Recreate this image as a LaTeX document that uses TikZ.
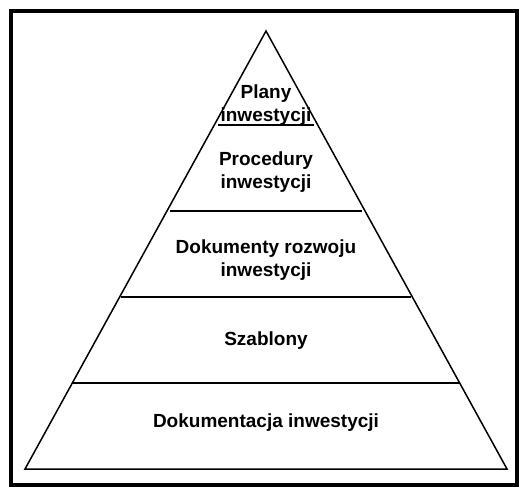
\documentclass[tikz,border=0pt]{standalone}
\usepackage{fontspec}
\setmainfont{Liberation Sans}
\begin{document}
\begin{tikzpicture}[x=1pt,y=-1pt,
  frame/.style={line width=4pt},
  edge/.style={line width=1.5pt,line join=miter},
  tier/.style={line width=1.6pt},
  label/.style={font=\bfseries\fontsize{19}{23}\selectfont,align=center,inner sep=0pt}]
  \useasboundingbox (0,0) rectangle (522,488);
  % outer frame
  \draw[frame] (11,11) rectangle (517,485);
  % pyramid outline
  \coordinate (apex) at (266,31);
  \coordinate (bl) at (25,469);
  \coordinate (br) at (507,469);
  \draw[edge] (bl) -- (apex) -- (br) -- cycle;
  % tier boundaries
  \draw[tier] (218,125) -- (314,125);
  \draw[tier] (170,211) -- (362,211);
  \draw[tier] (121,297) -- (411,297);
  \draw[tier] (73,383) -- (459,383);
  % tier labels
  \node[label] (plany) at (266,105) {Plany\\inwestycji};
  \node[label] (proc) at (266,172) {Procedury\\inwestycji};
  \node[label] (dok) at (266,260) {Dokumenty rozwoju\\inwestycji};
  \node[label] (szab) at (266,341) {Szablony};
  \node[label] (docu) at (266,423) {Dokumentacja inwestycji};
\end{tikzpicture}
\end{document}
